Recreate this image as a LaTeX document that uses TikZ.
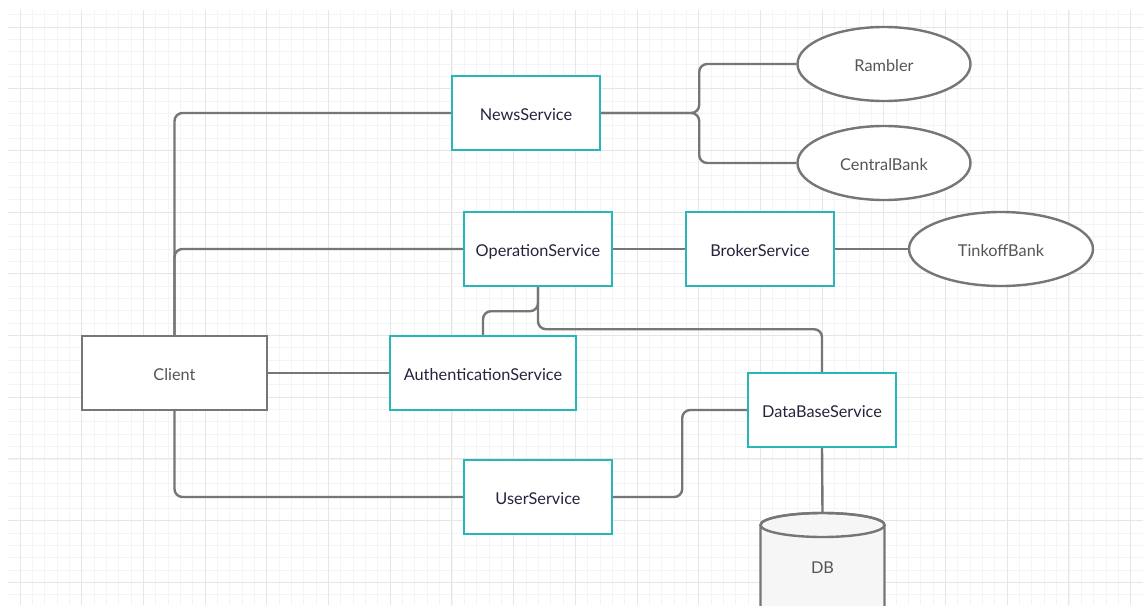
\documentclass[tikz,border=0pt]{standalone}
\usepackage{fontspec}
\setmainfont{Lato}
\usepackage{xcolor}
\definecolor{teal1}{RGB}{38, 184, 184}
\definecolor{wire1}{RGB}{118, 118, 118}
\definecolor{ink1}{RGB}{36, 36, 62}
\definecolor{ink2}{RGB}{85, 85, 85}
\definecolor{grid1}{RGB}{244, 244, 244}
\definecolor{grid2}{RGB}{230, 230, 230}
\definecolor{dbfill}{RGB}{246, 246, 246}
\usetikzlibrary{shapes.geometric}
\tikzset{
  svc/.style={draw=teal1,line width=2.4pt,fill=white,text=ink1,
    minimum width=148,minimum height=74,inner sep=0pt,
    text height=15pt,text depth=0pt,
    font=\fontsize{16.3}{19}\selectfont},
  ext/.style={ellipse,draw=wire1,line width=2.4pt,fill=white,text=ink2,
    minimum width=173,minimum height=74,inner sep=0pt,
    text height=15pt,text depth=0pt,
    font=\fontsize{16.3}{19}\selectfont},
  wire/.style={draw=wire1,line width=2.4pt,rounded corners=8pt},
}

\begin{document}
\begin{tikzpicture}[x=1pt,y=-1pt]
\useasboundingbox (0,0) rectangle (1143,605);
\fill[white] (0,0) rectangle (1143,605);
\begin{scope}
\clip (8,10) rectangle (1143,605);
\foreach \i in {-1,...,91}
  \draw[grid1,line width=0.8pt] ({20+12.34*\i},10) -- ({20+12.34*\i},605);
\foreach \j in {-1,...,47}
  \draw[grid1,line width=0.8pt] (8,{27+12.34*\j}) -- (1143,{27+12.34*\j});
\foreach \i in {0,...,18}
  \draw[grid2,line width=1pt] ({20+61.7*\i},10) -- ({20+61.7*\i},605);
\foreach \j in {0,...,9}
  \draw[grid2,line width=1pt] (8,{27+61.7*\j}) -- (1143,{27+61.7*\j});
\end{scope}

% database
\begin{scope}
\clip (0,0) rectangle (1143,605);
\filldraw[draw=wire1,fill=dbfill,line width=2.4pt]
  (760.5,525) -- (760.5,640) -- (884.5,640) -- (884.5,525)
  arc[start angle=0,end angle=-180,x radius=62,y radius=12] -- cycle;
\draw[draw=wire1,line width=2.4pt] (822.5,525) ellipse[x radius=62,y radius=12];
\end{scope}
\coordinate (dbtop) at (822.5,513);
\node[text=ink2,font=\fontsize{16.3}{19}\selectfont,
  text height=15pt,text depth=0pt] (db) at (822.5,566) {DB};

\node[svc] (news) at (526,113) {NewsService};
\node[svc] (oper) at (538,249) {OperationService};
\node[svc] (broker) at (760,249) {BrokerService};
\node[svc,minimum width=186] (auth) at (483,373) {AuthenticationService};
\node[svc] (dbs) at (822,410) {DataBaseService};
\node[svc] (user) at (538,497) {UserService};
\node[svc,draw=wire1,text=ink2,minimum width=185] (client) at (174.5,373) {Client};
\node[ext] (rambler) at (884,64) {Rambler};
\node[ext] (central) at (884,163) {CentralBank};
\node[ext,minimum width=184] (tinkoff) at (1001,249) {TinkoffBank};

\draw[wire] (client.north) |- (news.west);
\draw[wire] (client.north) |- (oper.west);
\draw[wire] (client.east) -- (auth.west);
\draw[wire] (client.south) |- (user.west);
\draw[wire] (news.east) -- ++(98,0) |- (rambler.west);
\draw[wire] (news.east) -- ++(98,0) |- (central.west);
\draw[wire] (oper.east) -- (broker.west);
\draw[wire] (broker.east) -- (tinkoff.west);
\draw[wire] (oper.south) -- ++(0,24) -| (auth.north);
\draw[wire] (oper.south) -- ++(0,42) -| (dbs.north);
\draw[wire] (user.east) -- ++(69,0) |- (dbs.west);
\draw[wire] (dbs.south) -- (dbtop);
\end{tikzpicture}
\end{document}
